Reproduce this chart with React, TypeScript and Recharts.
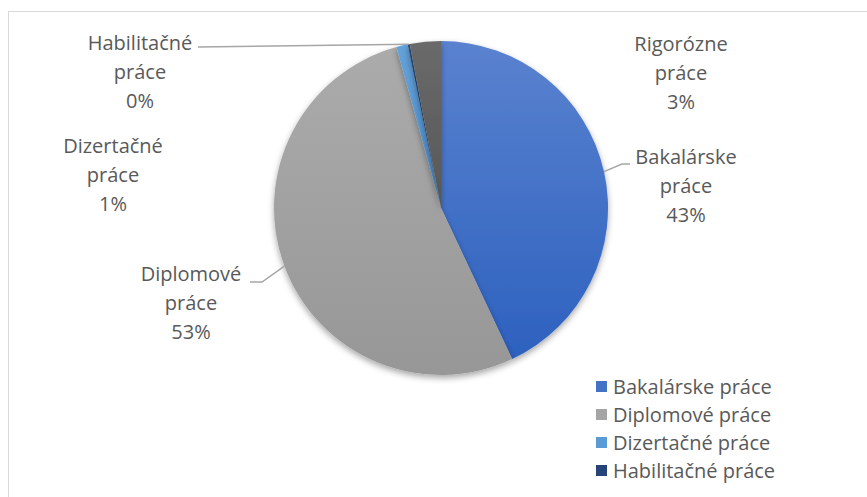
import { PieChart, Pie, Cell, Legend } from "recharts";

const categories = [
  "Bakalárske práce",
  "Diplomové práce",
  "Dizertačné práce",
  "Habilitačné práce",
  "Rigorózne práce",
];

const counts = [430, 527, 11, 2, 30];

const sliceColors = ["#4472C4", "#A5A5A5", "#5B9BD5", "#264478", "#636363"];

// the legend box is only tall enough for the first four entries
const legendItems = categories.slice(0, 4);

const data = categories.map((name, i) => ({ name, value: counts[i] }));

// label layout, relative to the pie centre
const labelLayout = [
  { dx: 245, dy: -44, leader: [[181, -44], [189, -44]] },
  { dx: -250, dy: 73, leader: [[-179, 74], [-191, 74]] },
  { dx: -328, dy: -55, leader: null },
  { dx: -301, dy: -158, leader: [[-243, -161]] },
  { dx: 240, dy: -157, leader: null },
];

const TEXT = "#595959";
const FONT = "'Open Sans', Lato, sans-serif";

function renderLabel(props: any) {
  const { cx, cy, midAngle, outerRadius, index, percent } = props;
  const l = labelLayout[index];
  const rad = Math.PI / 180;
  const ex = cx + outerRadius * Math.cos(-midAngle * rad);
  const ey = cy + outerRadius * Math.sin(-midAngle * rad);
  const tx = cx + l.dx;
  const ty = cy + l.dy;
  const words = categories[index].split(" ");
  let pts = "";
  if (l.leader) {
    pts = [[ex, ey], ...l.leader.map(([x, y]) => [cx + x, cy + y])]
      .map((p) => p.join(","))
      .join(" ");
  }
  return (
    <g key={"lbl" + index}>
      {l.leader && (
        <polyline points={pts} fill="none" stroke="#a6a6a6" strokeWidth={1.5} />
      )}
      <text
        x={tx}
        y={ty}
        textAnchor="middle"
        fill={TEXT}
        fontSize={20}
        fontFamily={FONT}
      >
        <tspan x={tx} dy={0}>{words[0]}</tspan>
        <tspan x={tx} dy={29}>{words[1]}</tspan>
        <tspan x={tx} dy={29}>{Math.round(percent * 100) + "%"}</tspan>
      </text>
    </g>
  );
}

function LegendBox() {
  return (
    <div style={{ fontFamily: FONT, fontSize: 20, color: TEXT }}>
      {legendItems.map((c, i) => (
        <div
          key={c}
          style={{ display: "flex", alignItems: "center", height: 28 }}
        >
          <span
            style={{
              width: 11,
              height: 11,
              background: sliceColors[i],
              marginRight: 6,
              display: "inline-block",
            }}
          />
          {c}
        </div>
      ))}
    </div>
  );
}

export default function App() {
  return (
    <div
      style={{
        position: "absolute",
        left: 0,
        top: 0,
        width: 867,
        height: 497,
        overflow: "hidden",
        background: "#fff",
      }}
    >
      <div
        style={{
          position: "absolute",
          left: 8,
          top: 11,
          width: 900,
          height: 520,
          border: "1.5px solid #d9d9d9",
        }}
      />
      <PieChart
        width={867}
        height={497}
        margin={{ top: 0, right: 0, bottom: 0, left: 0 }}
        style={{ position: "absolute", left: 0, top: 0 }}
      >
        <defs>
          <linearGradient id="g0" x1="0" y1="0" x2="0" y2="1">
            <stop offset="0%" stopColor="#5A82CF" />
            <stop offset="100%" stopColor="#2D61BF" />
          </linearGradient>
          <linearGradient id="g1" x1="0" y1="0" x2="0" y2="1">
            <stop offset="0%" stopColor="#ABABAB" />
            <stop offset="100%" stopColor="#979797" />
          </linearGradient>
          <linearGradient id="g2" x1="0" y1="0" x2="0" y2="1">
            <stop offset="0%" stopColor="#64A2DA" />
            <stop offset="100%" stopColor="#4C8ECC" />
          </linearGradient>
          <linearGradient id="g3" x1="0" y1="0" x2="0" y2="1">
            <stop offset="0%" stopColor="#2E4F86" />
            <stop offset="100%" stopColor="#203C6C" />
          </linearGradient>
          <linearGradient id="g4" x1="0" y1="0" x2="0" y2="1">
            <stop offset="0%" stopColor="#6A6A6A" />
            <stop offset="100%" stopColor="#575757" />
          </linearGradient>
          <filter id="shadow" x="-20%" y="-20%" width="140%" height="140%">
            <feDropShadow dx="0" dy="3" stdDeviation="3" floodColor="#000" floodOpacity="0.35" />
          </filter>
        </defs>
        <Pie
          data={data}
          dataKey="value"
          nameKey="name"
          cx={441}
          cy={208}
          outerRadius={167}
          startAngle={90}
          endAngle={-270}
          stroke="none"
          label={renderLabel}
          labelLine={false}
          isAnimationActive={false}
        >
          {data.map((d, i) => (
            <Cell key={d.name} fill={`url(#g${i})`} filter="url(#shadow)" />
          ))}
        </Pie>
        <Legend
          layout="vertical"
          content={() => <LegendBox />}
          wrapperStyle={{ left: 596, top: 372, width: 270 }}
        />
      </PieChart>
    </div>
  );
}
